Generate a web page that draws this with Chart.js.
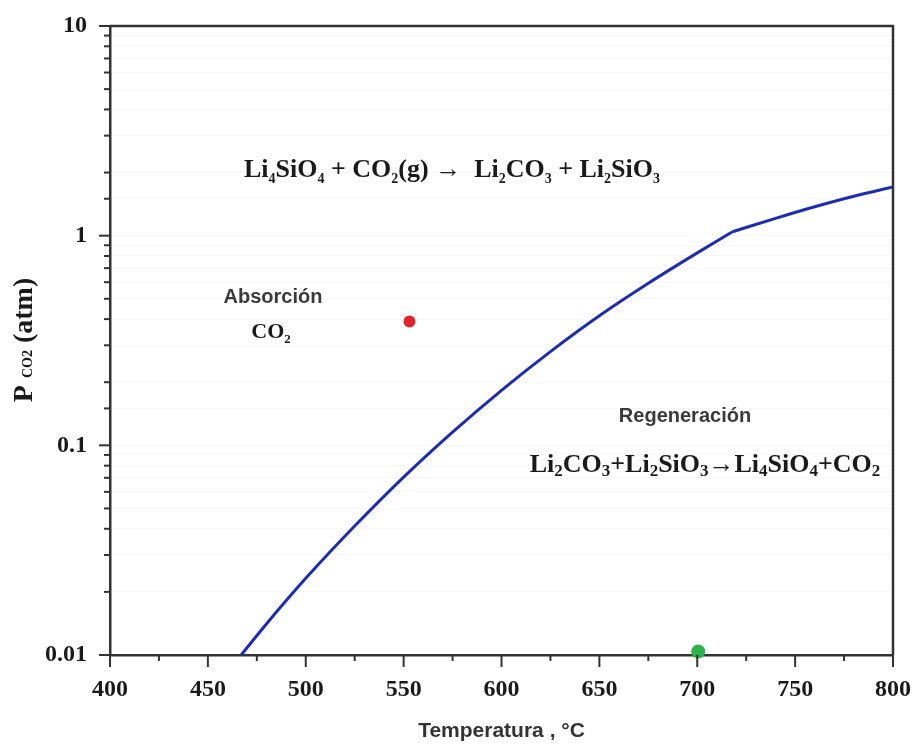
<!DOCTYPE html>
<html>
<head>
<meta charset="utf-8">
<script src="https://cdn.jsdelivr.net/npm/chart.js@4.4.1/dist/chart.umd.min.js"></script>
<style>
  html, body { margin: 0; padding: 0; background: #fff; }
  #wrap { width: 915px; height: 745px; }
</style>
</head>
<body>
<div id="wrap"><canvas id="pco2Chart"></canvas></div>
<script>
// equilibrium curve (the slope breaks at 718 °C)
const temps = [467, 480, 500, 525, 550, 575, 600, 625, 650, 675, 700, 718, 740, 760, 780, 800];
const pressures = [0.0100, 0.0141, 0.0232, 0.0412, 0.0705, 0.1156, 0.183, 0.280, 0.415, 0.593, 0.828, 1.044, 1.21, 1.374, 1.542, 1.706];
const breakTemp = 718;

// two marked points
const redPoint = [553, 0.39];
const greenPoint = [700.5, 0.0104];

// axis ticks
const yTickLabels = ['0.01', '0.1', '1', '10'];
const xMin = 400;
const xMax = 800;

const serif = "'Liberation Serif', 'Times New Roman', serif";
const sans = "'Liberation Sans', Arial, sans-serif";

const isDecade = (v) => Math.abs(Math.log10(v) - Math.round(Math.log10(v))) < 1e-6;

const curve = temps.map((t, i) => ({ x: t, y: pressures[i] }));
const curveLow = curve.filter((p) => p.x <= breakTemp);
const curveHigh = curve.filter((p) => p.x >= breakTemp);

// text with subscripts: parts are [text, isSub]
const drawRich = (ctx, parts, x, y, size, subSize, subDrop, align) => {
  const font = (s) => 'bold ' + s + 'px ' + serif;
  let total = 0;
  parts.forEach((p) => {
    ctx.font = font(p[1] ? subSize : size);
    total += ctx.measureText(p[0]).width;
  });
  let cx = align === 'center' ? x - total / 2 : x;
  ctx.textBaseline = 'alphabetic';
  ctx.textAlign = 'left';
  parts.forEach((p) => {
    ctx.font = font(p[1] ? subSize : size);
    ctx.fillText(p[0], cx, p[1] ? y + subDrop : y);
    cx += ctx.measureText(p[0]).width;
  });
};

const topEquation = [['Li'], ['4', 1], ['SiO'], ['4', 1], [' + CO'], ['2', 1], ['(g) '], ['\u2192'], ['  Li'], ['2', 1], ['CO'], ['3', 1], [' + Li'], ['2', 1], ['SiO'], ['3', 1]];
const lowEquation = [['Li'], ['2', 1], ['CO'], ['3', 1], ['+Li'], ['2', 1], ['SiO'], ['3', 1], ['\u2192'], ['Li'], ['4', 1], ['SiO'], ['4', 1], ['+CO'], ['2', 1]];
const co2Label = [['CO'], ['2', 1]];
const yTitle = [['P '], ['CO2', 1], [' (atm)']];

const frameAndText = {
  id: 'frameAndText',
  afterDraw(chart) {
    const ctx = chart.ctx;
    const area = chart.chartArea;
    const xs = chart.scales.x;
    const ys = chart.scales.y;
    ctx.save();
    ctx.strokeStyle = '#333';
    ctx.lineWidth = 2.5;
    // top and right frame
    ctx.beginPath();
    ctx.moveTo(area.left, area.top);
    ctx.lineTo(area.right, area.top);
    ctx.lineTo(area.right, area.bottom);
    ctx.stroke();

    // tick marks, outward
    ctx.lineWidth = 2;
    ys.ticks.forEach((t) => {
      const py = ys.getPixelForValue(t.value);
      const len = isDecade(t.value) ? 11 : 6;
      ctx.beginPath();
      ctx.moveTo(area.left - len, py);
      ctx.lineTo(area.left, py);
      ctx.stroke();
    });
    xs.ticks.forEach((t) => {
      const px = xs.getPixelForValue(t.value);
      const len = t.value % 50 === 0 ? 12 : 6;
      ctx.beginPath();
      ctx.moveTo(px, area.bottom);
      ctx.lineTo(px, area.bottom + len);
      ctx.stroke();
    });

    // annotations
    ctx.fillStyle = '#1a1a1a';
    drawRich(ctx, topEquation, 452, 177, 26, 14, 6, 'center');
    drawRich(ctx, lowEquation, 705, 472, 26, 17, 4, 'center');
    drawRich(ctx, co2Label, 271, 338, 22, 13, 5, 'center');

    ctx.fillStyle = '#3a3a3a';
    ctx.font = 'bold 20px ' + sans;
    ctx.textAlign = 'center';
    ctx.fillText('Absorción', 273, 303);
    ctx.fillText('Regeneración', 685, 422);

    // y title
    ctx.fillStyle = '#1a1a1a';
    ctx.translate(32, 340);
    ctx.rotate(-Math.PI / 2);
    drawRich(ctx, yTitle, 0, 0, 28, 14, 0, 'center');
    ctx.restore();
  },
};

const lineStyle = {
  showLine: true,
  borderColor: '#1c2db4',
  borderWidth: 3,
  pointRadius: 0,
  cubicInterpolationMode: 'monotone',
};

const ctxP = document?.getElementById('pco2Chart')?.getContext('2d');
new Chart(ctxP, {
  type: 'scatter',
  data: {
    datasets: [
      { label: 'Equilibrio', data: curveLow, ...lineStyle },
      { label: 'Equilibrio 2', data: curveHigh, ...lineStyle },
      {
        label: 'Absorción',
        data: [{ x: redPoint[0], y: redPoint[1] }],
        pointRadius: 6,
        backgroundColor: '#e0262c',
        borderWidth: 0,
      },
      {
        label: 'Regeneración',
        data: [{ x: greenPoint[0], y: greenPoint[1] }],
        pointRadius: 7,
        backgroundColor: '#2fb24c',
        borderWidth: 0,
        clip: false,
      },
    ],
  },
  plugins: [frameAndText],
  options: {
    responsive: true,
    maintainAspectRatio: false,
    animation: false,
    layout: {
      padding: { left: 0, right: 22, top: 26, bottom: 0 },
    },
    plugins: {
      legend: { display: false },
      tooltip: { enabled: false },
    },
    scales: {
      x: {
        type: 'linear',
        min: xMin,
        max: xMax,
        afterFit: (scale) => {
          scale.height = 90;
          scale.paddingLeft = 0;
          scale.paddingRight = 0;
        },
        ticks: {
          stepSize: 25,
          autoSkip: false,
          maxRotation: 0,
          padding: 20,
          color: '#1a1a1a',
          font: { family: serif, size: 24, weight: 'bold' },
          callback: (v) => (v % 50 === 0 ? String(v) : ''),
        },
        grid: { display: true, drawOnChartArea: false, drawTicks: false },
        border: { display: true, color: '#333', width: 2.5 },
        title: {
          display: true,
          text: 'Temperatura , °C',
          color: '#333',
          font: { family: sans, size: 21, weight: 'bold' },
          padding: { top: 0, bottom: 1 },
        },
      },
      y: {
        type: 'logarithmic',
        min: 0.01,
        max: 10,
        afterFit: (scale) => {
          scale.width = 110;
          scale.paddingTop = 0;
          scale.paddingBottom = 0;
        },
        ticks: {
          autoSkip: false,
          padding: 23,
          color: '#1a1a1a',
          font: { family: serif, size: 24, weight: 'bold' },
          callback: (v) => {
            const lbl = yTickLabels.find((s) => Math.abs(Number(s) - v) < v * 1e-6);
            return lbl || '';
          },
        },
        grid: {
          display: true,
          drawOnChartArea: true,
          drawTicks: false,
          color: 'rgba(0, 0, 0, 0.03)',
        },
        border: { display: true, color: '#333', width: 2.5 },
      },
    },
  },
});
</script>
</body>
</html>
